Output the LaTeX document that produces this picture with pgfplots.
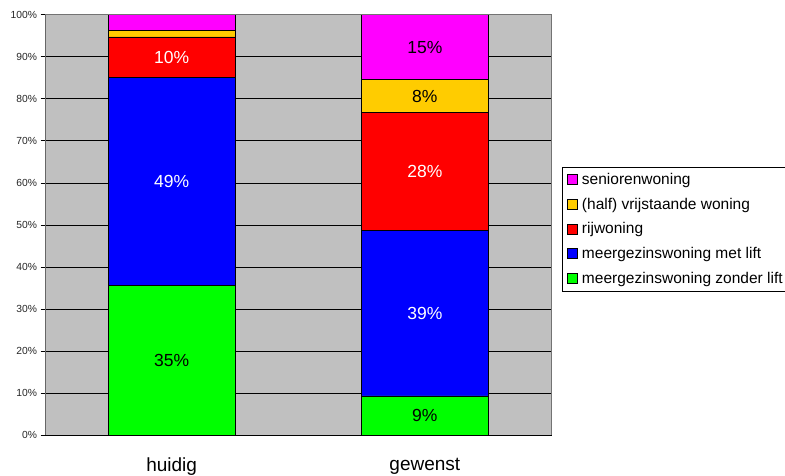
\documentclass[border=0pt]{standalone}
\usepackage{fontspec}
\setmainfont{Liberation Sans}
\usepackage{pgfplots}
\pgfplotsset{compat=1.18}
\definecolor{bggray}{HTML}{C0C0C0}
\definecolor{cpink}{HTML}{FF00FF}
\definecolor{cyellow}{HTML}{FFCC00}
\definecolor{cred}{HTML}{FF0000}
\definecolor{cblue}{HTML}{0000FF}
\definecolor{cgreen}{HTML}{00FF00}
\begin{document}
\begin{tikzpicture}
\path[use as bounding box] (0bp,0bp) rectangle (785bp,476bp);
\begin{axis}[
  at={(45bp,41bp)}, anchor=south west,
  scale only axis, width=506.5bp, height=420.3bp,
  xmin=-0.5, xmax=1.5, ymin=0, ymax=100,
  ybar stacked, bar width=0.5,
  axis background/.style={fill=bggray},
  axis x line*=bottom, axis y line*=left,
  x axis line style={draw=black, line width=0.8bp},
  y axis line style={draw=black!60, line width=0.8bp},
  /pgf/number format/assume math mode=true,
  ytick={0,10,...,100},
  yticklabel={\pgfmathprintnumber{\tick}\%},
  yticklabel style={font=\fontsize{10.3bp}{12bp}\selectfont, text=black!85},
  ymajorgrids, grid style={black, line width=0.6bp},
  tick align=outside,
  ytick style={draw=black, line width=0.6bp},
  major tick length=4.5bp,
  xtick={0,1}, xticklabels={huidig,gewenst},
  xtick style={draw=none},
  xticklabel style={font=\fontsize{19bp}{22bp}\selectfont, yshift=-15bp},
  extra x ticks={-0.5,0.5,1.5},
  extra x tick labels={},
  extra x tick style={grid=none, major tick length=6.5bp, tick style={draw=black, line width=0.8bp}},
  legend cell align=left,
  legend style={at={(rel axis cs:1.0207,0.6376)}, anchor=north west,
    draw=black, fill=white, font=\fontsize{15.5bp}{18bp}\selectfont,
    row sep=8bp, inner xsep=5bp, inner ysep=4bp,
    /tikz/every odd column/.append style={column sep=2bp}},
  legend image code/.code={\draw[#1, draw=black, line width=0.8bp] (0bp,-5bp) rectangle (10bp,5bp);},
]
\addlegendimage{fill=cpink}
\addlegendentry{seniorenwoning}
\addlegendimage{fill=cyellow}
\addlegendentry{(half) vrijstaande woning}
\addlegendimage{fill=cred}
\addlegendentry{rijwoning}
\addlegendimage{fill=cblue}
\addlegendentry{meergezinswoning met lift}
\addlegendimage{fill=cgreen}
\addlegendentry{meergezinswoning zonder lift}
\addplot[fill=cgreen, draw=black, line width=0.8bp, forget plot] coordinates {(0,35.6) (1,9.3)};
\addplot[fill=cblue, draw=black, line width=0.8bp, forget plot] coordinates {(0,49.4) (1,39.4)};
\addplot[fill=cred, draw=black, line width=0.8bp, forget plot] coordinates {(0,9.7) (1,28.0)};
\addplot[fill=cyellow, draw=black, line width=0.8bp, forget plot] coordinates {(0,1.5) (1,7.8)};
\addplot[fill=cpink, draw=black, line width=0.8bp, forget plot] coordinates {(0,3.8) (1,15.5)};
\coordinate (a1) at (axis cs:0,17.8);
\coordinate (a2) at (axis cs:0,60.3);
\coordinate (a3) at (axis cs:0,89.85);
\coordinate (b1) at (axis cs:1,4.65);
\coordinate (b2) at (axis cs:1,29.0);
\coordinate (b3) at (axis cs:1,62.7);
\coordinate (b4) at (axis cs:1,80.6);
\coordinate (b5) at (axis cs:1,92.25);
\end{axis}
\draw[black!55, line width=0.8bp] (current axis.north west) -- (current axis.north east) -- (current axis.south east);
\begin{scope}[every node/.style={font=\fontsize{17.5bp}{20bp}\selectfont}]
\node[black] at (a1) {35\%};
\node[white] at (a2) {49\%};
\node[white] at (a3) {10\%};
\node[black] at (b1) {9\%};
\node[white] at (b2) {39\%};
\node[white] at (b3) {28\%};
\node[black] at (b4) {8\%};
\node[black] at (b5) {15\%};
\end{scope}
\end{tikzpicture}
\end{document}
